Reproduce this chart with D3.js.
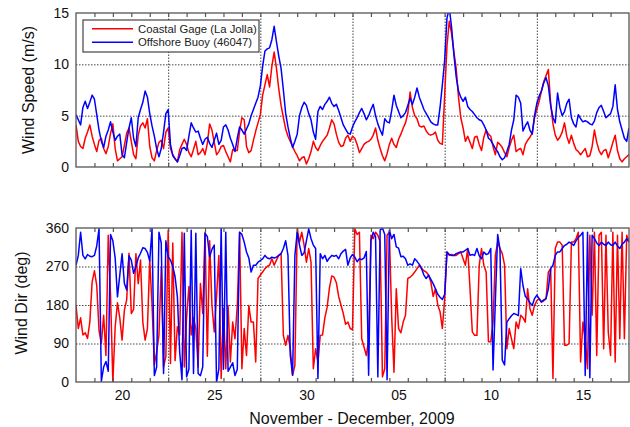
<!DOCTYPE html>
<html>
<head>
<meta charset="utf-8">
<script src="https://cdn.jsdelivr.net/npm/d3@7"></script>
<style>
body { margin: 0; background: #fff; }
svg { display: block; font-family: "Liberation Sans", Arial, sans-serif; }
</style>
</head>
<body>
<svg id="chart" width="630" height="427"></svg>
<script>
// 3-hourly samples from Nov 18 00:00 to Dec 18 00:00, 2009
const startTime = new Date(2009, 10, 18);
const endTime = new Date(2009, 11, 18);
const stepHours = 3;

// wind speed (m/s)
const speedCoastal = [
  4.1, 2.5, 2.0, 1.8, 2.8, 3.4, 4.1, 3.0, 2.2, 1.5,
  2.6, 2.8, 1.8, 1.3, 2.0, 3.3, 4.2, 1.8, 0.6, 0.8,
  1.0, 2.1, 3.3, 3.8, 2.5, 1.2, 0.8, 3.1, 4.0, 4.3,
  3.8, 4.7, 2.0, 0.9, 0.6, 1.6, 2.4, 2.6, 1.8, 3.4,
  3.8, 1.8, 1.2, 0.8, 0.5, 1.7, 2.2, 2.7, 2.2, 1.4,
  1.0, 1.7, 2.5, 1.2, 1.4, 1.8, 1.2, 2.3, 4.2, 3.6,
  2.4, 1.2, 1.5, 2.0, 2.1, 1.5, 1.0, 0.5, 1.7, 1.6,
  1.6, 3.5, 4.8, 4.6, 2.0, 1.4, 1.6, 2.6, 3.5, 4.3,
  5.1, 7.0, 8.0, 9.0, 7.8, 9.8, 11.2, 9.6, 7.6, 6.0,
  4.8, 3.7, 3.0, 2.5, 2.0, 1.5, 1.1, 0.6, 0.9, 1.0,
  0.3, 0.8, 1.5, 2.5, 1.9, 1.6, 2.1, 2.5, 2.8, 3.1,
  3.8, 4.6, 4.2, 3.2, 2.4, 2.0, 2.1, 2.8, 3.1, 2.5,
  3.0, 2.8, 2.2, 1.4, 1.8, 2.2, 2.4, 2.5, 2.7, 3.1,
  3.8, 2.6, 1.8, 1.1, 0.6, 1.3, 2.2, 2.8, 2.2, 1.9,
  2.7, 3.2, 3.8, 4.3, 5.2, 7.3, 5.8, 5.0, 4.7, 4.0,
  3.9, 4.0, 3.5, 3.2, 3.1, 3.2, 3.4, 2.6, 2.3, 2.2,
  7.0, 11.8, 14.2, 13.0, 11.2, 9.6, 6.8, 4.8, 3.8, 2.5,
  3.0, 2.4, 1.8, 2.9, 3.0, 2.2, 1.6, 2.9, 3.6, 3.2,
  3.0, 2.0, 1.2, 2.4, 2.2, 1.9, 1.4, 1.0, 1.9, 2.6,
  3.1, 1.5, 1.7, 1.8, 1.2, 2.2, 2.6, 2.9, 3.3, 4.8,
  5.6, 6.4, 7.4, 8.3, 8.9, 9.5, 6.2, 4.2, 3.1, 2.6,
  2.9, 3.4, 4.3, 3.0, 2.3, 3.1, 2.3, 1.7, 1.5, 1.2,
  1.5, 1.8, 1.0, 1.1, 2.0, 3.6, 2.4, 1.6, 1.2, 1.6,
  1.7, 0.9, 1.6, 2.4, 3.1, 1.6, 0.8, 0.5, 0.8, 1.0,
  1.2
];
const speedBuoy = [
  5.1, 4.6, 4.1, 5.8, 6.4, 5.7, 6.3, 7.0, 6.6, 5.1,
  3.6, 2.5, 1.9, 3.0, 3.6, 4.4, 3.4, 2.6, 3.0, 3.2,
  1.2, 0.9, 2.4, 3.8, 4.8, 2.8, 2.0, 4.8, 5.6, 6.3,
  7.4, 6.8, 5.2, 4.0, 3.0, 1.8, 1.0, 1.8, 3.4, 5.2,
  5.6, 2.2, 1.1, 0.8, 0.5, 1.1, 1.8, 1.9, 1.6, 3.0,
  4.3, 3.8, 3.4, 3.5, 2.8, 2.2, 2.7, 2.9, 2.3, 1.9,
  2.6, 3.3, 2.2, 2.6, 3.9, 4.1, 3.6, 2.8, 2.2, 1.5,
  2.8, 3.9, 3.6, 3.2, 3.7, 4.2, 5.0, 5.6, 6.2, 6.8,
  7.9, 9.8, 11.3, 11.5, 11.6, 12.4, 13.7, 12.2, 10.8, 9.6,
  7.5, 5.2, 3.9, 2.8, 1.9, 2.5, 3.2, 5.0, 5.8, 6.3,
  6.0, 5.2, 4.6, 3.4, 2.7, 5.4, 5.9, 5.6, 6.1, 6.4,
  6.8, 6.2, 5.9, 6.1, 5.5, 4.8, 4.1, 3.7, 3.3, 3.2,
  3.9, 4.4, 4.8, 5.3, 5.7, 5.2, 4.6, 5.0, 5.6, 6.1,
  5.0, 4.2, 3.6, 3.1, 4.7, 4.4, 4.3, 5.5, 7.0, 6.0,
  5.4, 4.8, 5.0, 5.3, 6.0, 6.7, 6.1, 6.8, 7.7, 6.8,
  6.2, 5.6, 5.2, 4.8, 4.4, 4.2, 4.1, 4.1, 5.8, 8.0,
  10.4, 14.5, 15.5, 13.6, 11.0, 8.8, 7.4, 6.8, 6.4, 6.8,
  5.9, 5.6, 5.4, 5.1, 4.8, 4.6, 4.5, 4.1, 3.6, 2.8,
  2.6, 2.2, 1.8, 1.5, 1.0, 0.7, 0.9, 1.5, 2.2, 3.6,
  4.6, 7.0, 6.8, 6.2, 3.5, 4.0, 4.4, 3.6, 3.2, 5.0,
  6.2, 6.9, 7.4, 8.2, 8.7, 7.9, 6.0, 4.8, 4.3, 7.2,
  5.8, 5.0, 5.4, 6.2, 6.6, 4.8, 4.2, 3.9, 5.1, 4.7,
  4.4, 4.5, 4.4, 4.2, 4.1, 4.5, 5.3, 5.8, 6.0, 5.4,
  4.8, 5.0, 5.2, 5.9, 8.0, 5.6, 4.4, 3.6, 2.8, 2.5,
  3.8
];

// wind direction (deg)
const dirCoastal = [
  179, 125, 150, 110, 115, 102, 140, 234, 260, 226,
  120, 90, 156, 62, 343, 200, 0, 129, 185, 150,
  98, 168, 192, 301, 160, 170, 300, 230, 285, 140,
  98, 125, 285, 180, 40, 70, 110, 268, 35, 60,
  355, 43, 325, 50, 129, 110, 350, 35, 150, 223,
  110, 150, 125, 35, 230, 160, 350, 60, 330, 180,
  117, 200, 296, 8, 172, 31, 179, 47, 140, 101,
  179, 350, 31, 125, 62, 179, 140, 140, 47, 242,
  250, 257, 265, 270, 273, 288, 273, 285, 296, 300,
  109, 86, 109, 78, 16, 39, 358, 327, 350, 320,
  280, 312, 280, 31, 78, 47, 109, 110, 150, 175,
  220, 248, 245, 232, 200, 180, 160, 135, 140, 125,
  122, 358, 345, 350, 101, 82, 62, 101, 343, 335,
  350, 343, 327, 12, 31, 343, 350, 153, 23, 218,
  125, 115, 140, 156, 242, 245, 250, 257, 265, 273,
  265, 260, 257, 250, 234, 200, 218, 180, 164, 125,
  195, 304, 296, 298, 296, 296, 300, 304, 288, 273,
  312, 218, 117, 109, 109, 273, 312, 273, 257, 94,
  94, 140, 296, 327, 312, 300, 273, 78, 125, 101,
  78, 140, 125, 156, 150, 140, 218, 171, 156, 179,
  190, 195, 187, 190, 195, 257, 265, 8, 312, 327,
  327, 320, 86, 86, 90, 327, 327, 335, 350, 47,
  140, 101, 31, 343, 156, 350, 62, 343, 350, 78,
  343, 117, 62, 350, 47, 343, 101, 350, 101, 343,
  327
];
const dirBuoy = [
  273, 296, 350, 296, 288, 298, 294, 293, 296, 318,
  358, 2, 35, 48, 25, 345, 330, 290, 199, 250,
  300, 230, 215, 295, 285, 254, 270, 290, 301, 314,
  312, 303, 283, 358, 15, 35, 350, 325, 20, 330,
  293, 285, 270, 246, 199, 70, 5, 348, 12, 30,
  355, 20, 348, 20, 15, 35, 348, 340, 293, 310,
  320, 0, 30, 360, 30, 350, 25, 35, 45, 15,
  30, 350, 345, 327, 304, 290, 257, 273, 273, 280,
  284, 288, 296, 290, 288, 292, 290, 292, 296, 300,
  312, 330, 296, 62, 16, 296, 350, 320, 296, 302,
  330, 358, 335, 320, 312, 8, 300, 288, 296, 282,
  290, 296, 294, 296, 288, 300, 306, 310, 273, 290,
  298, 292, 281, 288, 286, 290, 305, 16, 330, 350,
  340, 12, 355, 360, 345, 5, 355, 335, 345, 316,
  313, 293, 294, 288, 273, 276, 273, 288, 282, 275,
  265, 250, 242, 250, 240, 230, 218, 205, 198, 193,
  205, 304, 298, 296, 296, 300, 302, 304, 304, 308,
  312, 296, 298, 296, 312, 295, 288, 304, 298, 300,
  312, 28, 190, 345, 310, 51, 40, 140, 148, 155,
  160, 158, 155, 265, 225, 200, 195, 185, 179, 195,
  203, 195, 187, 192, 195, 218, 265, 273, 296, 304,
  304, 312, 319, 322, 327, 324, 319, 330, 338, 343,
  350, 15, 350, 10, 343, 335, 325, 319, 327, 322,
  319, 327, 321, 319, 327, 318, 312, 322, 327, 335,
  327
];

const seriesNames = ["Coastal Gage (La Jolla)", "Offshore Buoy (46047)"];
const seriesColors = ["#ff0000", "#0000ff"];
const speedTicks = [0, 5, 10, 15];
const dirTicks = [0, 90, 180, 270, 360];
// day labels sit at mid-day
const labelDays = [
  new Date(2009, 10, 20, 12), new Date(2009, 10, 25, 12), new Date(2009, 10, 30, 12),
  new Date(2009, 11, 5, 12), new Date(2009, 11, 10, 12), new Date(2009, 11, 15, 12)
];
const gridDays = [
  new Date(2009, 10, 23), new Date(2009, 10, 28), new Date(2009, 11, 3),
  new Date(2009, 11, 8), new Date(2009, 11, 13)
];

const svg = d3.select("#chart");
const left = 76, right = 629;

const x = d3.scaleTime().domain([startTime, endTime]).range([left, right]);
const times = d3.range(speedBuoy.length).map(i => d3.timeHour.offset(startTime, stepHours * i));
const dayTicks = d3.timeDay.range(d3.timeDay.offset(startTime, 1), endTime);

const panels = [
  { id: "speed", top: 13, bottom: 167, domain: [0, 15], ticks: speedTicks,
    data: [speedCoastal, speedBuoy], label: "Wind Speed (m/s)", labelX: 34, labelY: 90 },
  { id: "dir", top: 228, bottom: 382, domain: [0, 360], ticks: dirTicks,
    data: [dirCoastal, dirBuoy], label: "Wind Dir (deg)", labelX: 27, labelY: 303 }
];

panels.forEach((p, pi) => {
  const y = d3.scaleLinear().domain(p.domain).range([p.bottom, p.top]);
  const g = svg.append("g");

  g.append("clipPath").attr("id", "clip-" + p.id)
    .append("rect")
    .attr("x", left).attr("y", p.top)
    .attr("width", right - left).attr("height", p.bottom - p.top);

  // dotted grid
  const gy = g.append("g")
    .attr("transform", `translate(${left},0)`)
    .call(d3.axisLeft(y).tickValues(p.ticks.slice(1, -1)).tickSize(-(right - left)).tickFormat(""));
  const gx = g.append("g")
    .attr("transform", `translate(0,${p.bottom})`)
    .call(d3.axisBottom(x).tickValues(gridDays).tickSize(-(p.bottom - p.top)).tickFormat(""));
  [gy, gx].forEach(a => {
    a.select(".domain").remove();
    a.selectAll("line").attr("stroke", "#444").attr("stroke-width", 1).attr("stroke-dasharray", "1.5,1.5");
  });

  // series
  const line = d3.line()
    .x((d, i) => x(times[i]))
    .y(d => y(d));
  g.append("g").attr("clip-path", `url(#clip-${p.id})`)
    .selectAll("path")
    .data(p.data)
    .join("path")
    .attr("d", line)
    .attr("fill", "none")
    .attr("stroke", (d, i) => seriesColors[i])
    .attr("stroke-width", 1.5)
    .attr("stroke-linejoin", "round");

  // frame
  g.append("rect")
    .attr("x", left).attr("y", p.top)
    .attr("width", right - left).attr("height", p.bottom - p.top)
    .attr("fill", "none").attr("stroke", "#555").attr("stroke-width", 1.3);

  // daily ticks, inward, top and bottom
  const tb = g.append("g").attr("transform", `translate(0,${p.bottom})`)
    .call(d3.axisBottom(x).tickValues(dayTicks).tickSize(-4).tickFormat(""));
  const tt = g.append("g").attr("transform", `translate(0,${p.top})`)
    .call(d3.axisTop(x).tickValues(dayTicks).tickSize(-4).tickFormat(""));
  [tb, tt].forEach(a => {
    a.select(".domain").remove();
    a.selectAll("line").attr("stroke", "#555").attr("stroke-width", 1.2);
  });

  // y tick labels
  const ya = g.append("g")
    .attr("transform", `translate(${left},0)`)
    .call(d3.axisLeft(y).tickValues(p.ticks).tickSize(0).tickPadding(7));
  ya.select(".domain").remove();
  ya.selectAll("text").attr("font-size", 14).attr("fill", "#111")
    .attr("font-family", "'Liberation Sans', Arial, sans-serif");

  g.append("text")
    .attr("transform", `translate(${p.labelX},${p.labelY}) rotate(-90)`)
    .attr("text-anchor", "middle")
    .attr("font-size", 16).attr("fill", "#111")
    .text(p.label);

  if (pi === 1) {
    const xa = g.append("g")
      .attr("transform", `translate(0,${p.bottom})`)
      .call(d3.axisBottom(x).tickValues(labelDays).tickSize(0).tickPadding(8)
        .tickFormat(d3.timeFormat("%d")));
    xa.select(".domain").remove();
    xa.selectAll("text").attr("font-size", 14).attr("fill", "#111")
      .attr("font-family", "'Liberation Sans', Arial, sans-serif");
  }
});

// x title
svg.append("text")
  .attr("x", 352).attr("y", 424)
  .attr("text-anchor", "middle")
  .attr("font-size", 16).attr("fill", "#111")
  .text("November - December, 2009");

// legend
const legend = svg.append("g");
legend.append("rect")
  .attr("x", 83).attr("y", 20).attr("width", 176).attr("height", 32)
  .attr("fill", "#fff").attr("stroke", "#444").attr("stroke-width", 1.2);
const items = legend.selectAll("g.item")
  .data(seriesNames)
  .join("g")
  .attr("class", "item")
  .attr("transform", (d, i) => `translate(0,${28.7 + i * 13.6})`);
items.append("line")
  .attr("x1", 92).attr("x2", 133)
  .attr("stroke", (d, i) => seriesColors[i]).attr("stroke-width", 1.5);
items.append("text")
  .attr("x", 138).attr("y", 4)
  .attr("font-size", 11.3).attr("fill", "#222")
  .text(d => d);
</script>
</body>
</html>
